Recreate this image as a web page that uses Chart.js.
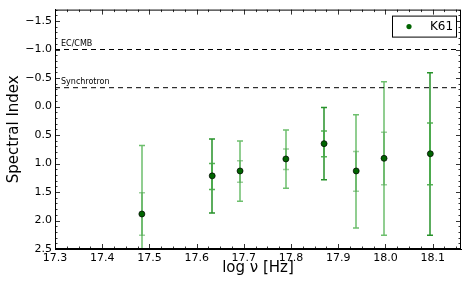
<!DOCTYPE html>
<html>
<head>
<meta charset="utf-8">
<script src="https://cdn.jsdelivr.net/npm/chart.js@4.4.1/dist/chart.umd.min.js"></script>
<style>
  html, body { margin: 0; padding: 0; background: #fff; }
  #wrap { width: 468px; height: 289px; }
</style>
</head>
<body>
<div id="wrap"><canvas id="chart"></canvas></div>
<script>
// values
var logNu      = [17.484, 17.633, 17.692, 17.789, 17.870, 17.938, 17.997, 18.095];
var specIndex  = [1.886, 1.217, 1.131, 0.920, 0.652, 1.131, 0.909, 0.829];
var outerLow   = [0.686, 0.572, 0.606, 0.411, 0.017, 0.144, -0.434, -0.594];
var outerHigh  = [2.70, 1.869, 1.663, 1.435, 1.286, 2.132, 2.258, 2.258];
var innerLow   = [1.515, 1.000, 0.950, 0.744, 0.429, 0.789, 0.452, 0.291];
var innerHigh  = [2.260, 1.457, 1.327, 1.104, 0.881, 1.486, 1.372, 1.372];

var refLines   = [-1.0, -0.33];
var refNames   = ["EC/CMB", "Synchrotron"];

var xTicks = [17.3, 17.4, 17.5, 17.6, 17.7, 17.8, 17.9, 18.0, 18.1];
var yTicks = [-1.5, -1.0, -0.5, 0.0, 0.5, 1.0, 1.5, 2.0, 2.5];
var xMin = 17.3, xMax = 18.16;
var yMin = -1.7, yMax = 2.5;

var FONT = "'DejaVu Sans', sans-serif";
var darkBars = [1, 4, 7];   // bars drawn in the stronger green

function fmt(v) {
  var s = Math.abs(v).toFixed(1);
  return v < 0 ? "\u2212" + s : s;
}

var errorBars = {
  id: 'errorBars',
  beforeDatasetsDraw: function(chart) {
    var ctx = chart.ctx, xs = chart.scales.x, ys = chart.scales.y, a = chart.chartArea;
    ctx.save();
    ctx.lineWidth = 1.5;
    function clampY(y) { return Math.max(a.top, Math.min(a.bottom, y)); }
    function bar(px, lo, hi, color) {
      var y1 = ys.getPixelForValue(lo), y2 = ys.getPixelForValue(hi);
      ctx.strokeStyle = color;
      ctx.beginPath();
      ctx.moveTo(px, clampY(y1)); ctx.lineTo(px, clampY(y2));
      if (y1 >= a.top && y1 <= a.bottom) { ctx.moveTo(px - 3, y1); ctx.lineTo(px + 3, y1); }
      if (y2 >= a.top && y2 <= a.bottom) { ctx.moveTo(px - 3, y2); ctx.lineTo(px + 3, y2); }
      ctx.stroke();
    }
    for (var i = 0; i < logNu.length; i++) {
      var px = Math.round(xs.getPixelForValue(logNu[i]));
      var dark = darkBars.indexOf(i) >= 0;
      bar(px, outerLow[i], outerHigh[i], dark ? '#27922a' : '#6dbf6d');
      bar(px, innerLow[i], innerHigh[i], dark ? 'rgba(70,170,70,0.9)' : 'rgba(60,160,60,0.5)');
    }
    ctx.restore();
  },
  afterDraw: function(chart) {
    var ctx = chart.ctx, xs = chart.scales.x, ys = chart.scales.y, a = chart.chartArea;
    ctx.save();
    // frame
    ctx.strokeStyle = '#000';
    ctx.lineWidth = 1;
    ctx.strokeRect(a.left + 0.5, a.top + 0.5, a.right - a.left - 1, a.bottom - a.top - 1);
    // inward ticks
    ctx.lineWidth = 0.8;
    ctx.beginPath();
    var v, p, len;
    for (v = 17.3; v <= xMax + 1e-9; v += 0.025) {
      p = Math.round(xs.getPixelForValue(v)) + 0.5;
      len = Math.abs((v * 10) - Math.round(v * 10)) < 1e-6 ? 5 : 2.5;
      ctx.moveTo(p, a.bottom); ctx.lineTo(p, a.bottom - len);
      ctx.moveTo(p, a.top); ctx.lineTo(p, a.top + len);
    }
    for (v = -1.7; v <= yMax + 1e-9; v += 0.1) {
      p = Math.round(ys.getPixelForValue(v)) + 0.5;
      len = Math.abs((v * 2) - Math.round(v * 2)) < 1e-6 ? 5 : 2.5;
      ctx.moveTo(a.left, p); ctx.lineTo(a.left + len, p);
      ctx.moveTo(a.right, p); ctx.lineTo(a.right - len, p);
    }
    ctx.stroke();
    // reference line labels
    ctx.fillStyle = '#000';
    ctx.font = "8px " + FONT;
    ctx.textBaseline = 'alphabetic';
    ctx.textAlign = 'left';
    for (var i = 0; i < refLines.length; i++) {
      ctx.fillText(refNames[i], a.left + 6, ys.getPixelForValue(refLines[i]) - 4);
    }
    // legend
    var bx = a.right - 69, by = a.top + 6, bw = 64, bh = 21;
    ctx.fillStyle = '#fff';
    ctx.fillRect(bx, by, bw, bh);
    ctx.strokeStyle = '#000';
    ctx.lineWidth = 1;
    ctx.strokeRect(bx + 0.5, by + 0.5, bw, bh);
    ctx.beginPath();
    ctx.arc(bx + 17, by + 11, 2.6, 0, Math.PI * 2);
    ctx.fillStyle = '#006400';
    ctx.fill();
    ctx.fillStyle = '#000';
    ctx.font = "12px " + FONT;
    ctx.textBaseline = 'middle';
    ctx.fillText('K61', bx + 38, by + 11.5);
    ctx.restore();
  }
};

var datasets = [];
for (var r = 0; r < refLines.length; r++) {
  datasets.push({
    type: 'line',
    label: refNames[r],
    data: [{x: xMin, y: refLines[r]}, {x: xMax, y: refLines[r]}],
    borderColor: '#000',
    borderWidth: 1,
    borderDash: [5, 4],
    pointRadius: 0,
    fill: false
  });
}
datasets.push({
  type: 'scatter',
  label: 'K61',
  data: logNu.map(function(x, i) { return {x: x, y: specIndex[i]}; }),
  backgroundColor: '#006400',
  borderColor: '#000',
  borderWidth: 0.7,
  pointRadius: 3,
  pointHoverRadius: 3
});

new Chart(document.getElementById('chart'), {
  type: 'scatter',
  data: { datasets: datasets },
  options: {
    responsive: true,
    maintainAspectRatio: false,
    animation: false,
    layout: { padding: { top: 5, right: 7, left: 0, bottom: 0 } },
    plugins: { legend: { display: false }, tooltip: { enabled: false } },
    scales: {
      x: {
        type: 'linear',
        min: xMin, max: xMax,
        afterFit: function(s) { s.height = 40; },
        afterBuildTicks: function(s) { s.ticks = xTicks.map(function(v) { return {value: v}; }); },
        grid: { display: false, drawTicks: false },
        border: { display: true, color: '#000', width: 1 },
        ticks: {
          color: '#000', padding: 3, maxRotation: 0, autoSkip: false,
          font: { family: FONT, size: 11 },
          callback: function(v) { return fmt(v); }
        },
        title: {
          display: true, text: 'log \u03bd [Hz]', color: '#000',
          font: { family: FONT, size: 15 }, padding: { top: 12, bottom: 12 }
        }
      },
      y: {
        type: 'linear',
        reverse: true,
        min: yMin, max: yMax,
        afterFit: function(s) { s.width = 55; },
        afterBuildTicks: function(s) { s.ticks = yTicks.map(function(v) { return {value: v}; }); },
        grid: { display: false, drawTicks: false },
        border: { display: true, color: '#000', width: 1 },
        ticks: {
          color: '#000', padding: 3, autoSkip: false,
          font: { family: FONT, size: 11 },
          callback: function(v) { return fmt(v); }
        },
        title: {
          display: true, text: 'Spectral Index', color: '#000',
          font: { family: FONT, size: 15 }, padding: { top: 5, bottom: 5 }
        }
      }
    }
  },
  plugins: [errorBars]
});
</script>
</body>
</html>
